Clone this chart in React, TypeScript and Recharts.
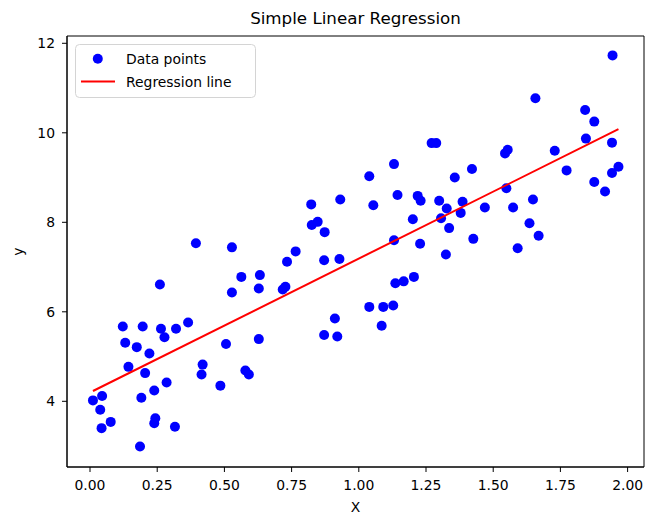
import React from "react";
import { ScatterChart, Scatter, XAxis, YAxis, ReferenceArea, Legend, Label } from "recharts";

// data
const xValues = [
  0.394, 0.528, 0.563, 0.632, 0.528, 0.628, 0.26, 0.122, 0.196, 0.264,
  0.32, 0.365, 0.277, 0.131, 0.174, 0.221, 0.143, 0.205, 0.506, 0.628,
  0.419, 0.415, 0.578, 0.591, 0.485, 0.285, 0.239, 0.191, 0.045, 0.011,
  0.038, 0.077, 0.043, 0.243, 0.239, 0.316, 0.186, 1.271, 1.288, 1.131,
  1.039, 0.823, 0.931, 1.054, 1.144, 1.219, 1.23, 1.299, 0.825, 0.847,
  0.873, 1.201, 1.306, 1.327, 1.336, 1.131, 1.228, 0.765, 1.357, 0.733,
  0.871, 0.928, 1.324, 0.717, 0.727, 0.911, 0.871, 0.92, 1.039, 1.091,
  1.128, 1.085, 1.136, 1.167, 1.205, 1.944, 1.657, 1.842, 1.876, 1.845,
  1.942, 1.729, 1.544, 1.554, 1.773, 1.966, 1.942, 1.876, 1.916, 1.421,
  1.549, 1.648, 1.386, 1.379, 1.469, 1.574, 1.635, 1.669, 1.426, 1.591,
];
const yValues = [
  7.53, 7.44, 6.78, 6.82, 6.43, 6.52, 6.61, 5.67, 5.67, 5.62,
  5.62, 5.76, 5.43, 5.31, 5.21, 5.07, 4.77, 4.63, 5.28, 5.39,
  4.82, 4.6, 4.69, 4.6, 4.35, 4.42, 4.24, 4.08, 4.12, 4.02,
  3.81, 3.54, 3.4, 3.62, 3.51, 3.43, 2.99, 9.77, 9.77, 9.3,
  9.03, 8.4, 8.51, 8.38, 8.61, 8.59, 8.48, 8.48, 7.94, 8.01,
  7.78, 8.07, 8.09, 8.31, 7.87, 7.6, 7.52, 7.35, 9.0, 7.12,
  7.15, 7.18, 7.28, 6.5, 6.56, 5.85, 5.48, 5.45, 6.11, 6.11,
  6.14, 5.69, 6.64, 6.68, 6.78, 11.73, 10.77, 10.51, 10.25, 9.87,
  9.78, 9.6, 9.54, 9.62, 9.16, 9.24, 9.1, 8.9, 8.69, 9.19,
  8.76, 8.51, 8.46, 8.21, 8.33, 8.33, 7.98, 7.7, 7.63, 7.42,
];
const lineX = [0.011, 1.966];
const lineY = [4.23, 10.08];

const xTicks = [0, 0.25, 0.5, 0.75, 1.0, 1.25, 1.5, 1.75, 2.0];
const yTicks = [4, 6, 8, 10, 12];
const xDomain: [number, number] = [-0.0856, 2.061];
const yDomain: [number, number] = [2.532, 12.163];

const points = xValues.map((x, i) => ({ x, y: yValues[i] }));
const linePoints = lineX.map((x, i) => ({ x, y: lineY[i] }));

const FONT = "DejaVu Sans";

const Dot = (p: any) => <circle cx={p.cx} cy={p.cy} r={5} fill="#0000ff" />;

const LegendBox = ({ payload }: any) => (
  <svg width={181} height={54} style={{ display: "block" }}>
    <rect x={0.5} y={0.5} width={180} height={53} rx={4} fill="#ffffff" fillOpacity={0.8} stroke="#d4d4d4" />
    {(payload || []).map((entry: any, i: number) => {
      const cy = 14.8 + i * 22.7;
      return (
        <g key={entry.value}>
          {entry.type === "line" ? (
            <line x1={6} x2={40} y1={cy} y2={cy} stroke="#ff0000" strokeWidth={2} />
          ) : (
            <circle cx={22.8} cy={cy} r={5} fill="#0000ff" />
          )}
          <text x={51} y={cy} dy="0.36em" fontSize={13.9} fill="#000" fontFamily={FONT}>
            {entry.value}
          </text>
        </g>
      );
    })}
  </svg>
);

const YLabel = (props: any) => {
  const vb = props.viewBox || { x: 0, y: 36, width: 67, height: 431 };
  const x = vb.x + 23;
  const y = vb.y + vb.height / 2;
  return (
    <text x={x} y={y} transform={`rotate(-90 ${x} ${y})`} textAnchor="middle" fontSize={13.9} fill="#000" fontFamily={FONT}>
      y
    </text>
  );
};

const App = () => {
  return (
    <div style={{ position: "absolute", left: 0, top: 0, width: 656, height: 528, background: "#fff", fontFamily: FONT }}>
      <div
        style={{
          position: "absolute", left: 67, top: 8, width: 577, textAlign: "center",
          fontSize: 16.7, lineHeight: "20px", color: "#000",
        }}
      >
        Simple Linear Regression
      </div>
      <ScatterChart width={656} height={528} margin={{ top: 36, right: 12, bottom: 0, left: 0 }}>
        <XAxis
          type="number"
          dataKey="x"
          domain={xDomain}
          ticks={xTicks}
          interval={0}
          allowDataOverflow
          tickFormatter={(v: number) => v.toFixed(2)}
          height={61}
          tickSize={5}
          tickMargin={8}
          axisLine={{ stroke: "#000" }}
          tickLine={{ stroke: "#000" }}
          tick={{ fill: "#000", fontSize: 13.9, fontFamily: FONT }}
        >
          <Label value="X" position="insideBottom" offset={16} fill="#000" fontSize={13.9} fontFamily={FONT} />
        </XAxis>
        <YAxis
          type="number"
          dataKey="y"
          domain={yDomain}
          ticks={yTicks}
          interval={0}
          allowDataOverflow
          width={67}
          tickSize={5}
          tickMargin={7}
          axisLine={{ stroke: "#000" }}
          tickLine={{ stroke: "#000" }}
          tick={{ fill: "#000", fontSize: 13.9, fontFamily: FONT }}
        >
          <Label content={YLabel} />
        </YAxis>
        <ReferenceArea
          x1={xDomain[0]}
          x2={xDomain[1]}
          y1={yDomain[0]}
          y2={yDomain[1]}
          fill="none"
          stroke="#000"
          strokeWidth={1}
          ifOverflow="visible"
        />
        <Scatter
          name="Data points"
          data={points}
          fill="#0000ff"
          shape={Dot}
          legendType="circle"
          isAnimationActive={false}
        />
        <Scatter
          name="Regression line"
          data={linePoints}
          fill="#ff0000"
          line={{ stroke: "#ff0000", strokeWidth: 2 }}
          shape={() => <g />}
          legendType="line"
          isAnimationActive={false}
        />
        <Legend
          layout="vertical"
          align="center"
          verticalAlign="middle"
          content={LegendBox}
          wrapperStyle={{ left: 75, top: 44, width: 181, height: 54 }}
        />
      </ScatterChart>
    </div>
  );
};

export default App;
